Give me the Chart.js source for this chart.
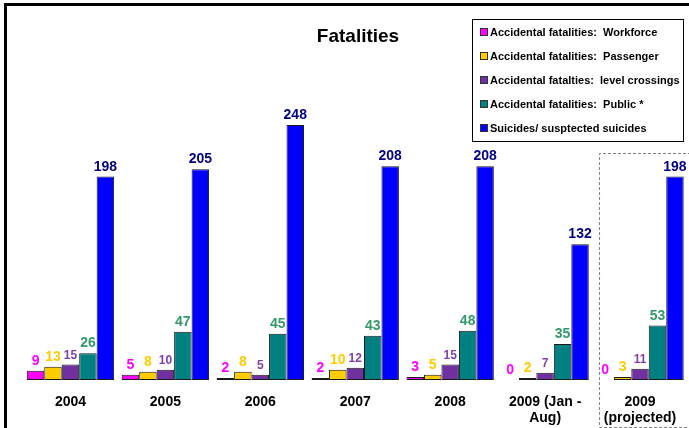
<!DOCTYPE html>
<html>
<head>
<meta charset="utf-8">
<title>Fatalities</title>
<script src="https://cdn.jsdelivr.net/npm/chart.js@4.4.1/dist/chart.umd.min.js"></script>
<style>
  html, body { margin: 0; padding: 0; background: #fff; }
  #wrap { position: relative; width: 689px; height: 428px; }
</style>
</head>
<body>
<div id="wrap"><canvas id="fatalitiesChart" width="689" height="428"></canvas></div>
<script>
// data
const years = [['2004'], ['2005'], ['2006'], ['2007'], ['2008'], ['2009 (Jan -', 'Aug)'], ['2009', '(projected)']];
const seriesNames = [
    'Accidental fatalities:  Workforce',
    'Accidental fatalities:  Passenger',
    'Accidental fatalties:  level crossings',
    'Accidental fatalities:  Public *',
    'Suicides/ susptected suicides'
];
const workforce = [9, 5, 2, 2, 3, 0, 0];
const passenger = [13, 8, 8, 10, 5, 2, 3];
const levelCrossings = [15, 10, 5, 12, 15, 7, 11];
const publicFatal = [26, 47, 45, 43, 48, 35, 53];
const suicides = [198, 205, 248, 208, 208, 132, 198];

const barColors = ['#ff00ff', '#ffcc00', '#7030a0', '#008080', '#0000ff'];
const labelColors = ['#ff00ff', '#ffcc00', '#7f3fa5', '#339966', '#000080'];
const labelSizes = [14, 14, 12, 14, 14];

const allSeries = [workforce, passenger, levelCrossings, publicFatal, suicides];

const FONT = 'Arial, "Liberation Sans", sans-serif';

const decorPlugin = {
    id: 'decor',
    beforeDraw(chart) {
        const ctx = chart.ctx;
        ctx.save();
        ctx.fillStyle = '#fff';
        ctx.fillRect(0, 0, chart.width, chart.height);
        // black frame on top and left
        ctx.fillStyle = '#000';
        ctx.fillRect(4, 3, chart.width - 4, 3);
        ctx.fillRect(4, 3, 3, chart.height - 3);

        // dashed box round the projected group
        const xScale = chart.scales.x;
        const lastX = xScale.getPixelForValue(years.length - 1);
        ctx.strokeStyle = '#808080';
        ctx.lineWidth = 1;
        ctx.setLineDash([3, 2]);
        ctx.beginPath();
        ctx.moveTo(chart.width + 2, 153.5);
        ctx.lineTo(lastX - 40.5, 153.5);
        ctx.lineTo(lastX - 40.5, 427.5);
        ctx.lineTo(chart.width + 2, 427.5);
        ctx.stroke();
        ctx.restore();
    },
    afterDatasetsDraw(chart) {
        const ctx = chart.ctx;
        ctx.save();
        ctx.textAlign = 'center';
        ctx.textBaseline = 'alphabetic';

        // value labels above bars
        chart.data.datasets.forEach((ds, i) => {
            const meta = chart.getDatasetMeta(i);
            ctx.font = 'bold ' + labelSizes[i] + 'px ' + FONT;
            ctx.fillStyle = labelColors[i];
            meta.data.forEach((bar, j) => {
                ctx.fillText(String(ds.data[j]), bar.x, bar.y - 6);
            });
        });

        // category labels
        const xScale = chart.scales.x;
        ctx.font = 'bold 14px ' + FONT;
        ctx.fillStyle = '#000';
        years.forEach((lines, j) => {
            const x = xScale.getPixelForValue(j);
            lines.forEach((line, k) => {
                ctx.fillText(line, x, 406 + k * 16);
            });
        });

        // title
        ctx.font = 'bold 19px ' + FONT;
        ctx.fillText('Fatalities', 358, 42);

        // legend box
        ctx.fillStyle = '#fff';
        ctx.fillRect(472, 19, 211, 122);
        ctx.strokeStyle = '#000';
        ctx.lineWidth = 1;
        ctx.strokeRect(472.5, 19.5, 211, 122);
        ctx.textAlign = 'left';
        ctx.textBaseline = 'middle';
        ctx.font = 'bold 11px ' + FONT;
        seriesNames.forEach((name, i) => {
            const y = 32 + i * 24;
            ctx.fillStyle = barColors[i];
            ctx.fillRect(481, y - 3, 6, 6);
            ctx.strokeStyle = '#333';
            ctx.strokeRect(480.5, y - 3.5, 7, 7);
            ctx.fillStyle = '#000';
            ctx.fillText(name, 490, y + 1);
        });
        ctx.restore();
    }
};

const ctx = document.getElementById('fatalitiesChart').getContext('2d');
new Chart(ctx, {
    type: 'bar',
    data: {
        labels: years,
        datasets: allSeries.map((values, i) => ({
            label: seriesNames[i],
            data: values,
            backgroundColor: barColors[i],
            borderColor: '#1a1a1a',
            borderWidth: 1,
            borderSkipped: false,
            barPercentage: 1,
            categoryPercentage: 0.92
        }))
    },
    options: {
        responsive: false,
        animation: false,
        devicePixelRatio: 1,
        layout: { padding: { left: 23, right: 1.5, top: 10, bottom: 48 } },
        plugins: {
            legend: { display: false },
            title: { display: false },
            tooltip: { enabled: false }
        },
        scales: {
            x: { display: false },
            y: { display: false, min: 0, max: 360 }
        }
    },
    plugins: [decorPlugin]
});
</script>
</body>
</html>
